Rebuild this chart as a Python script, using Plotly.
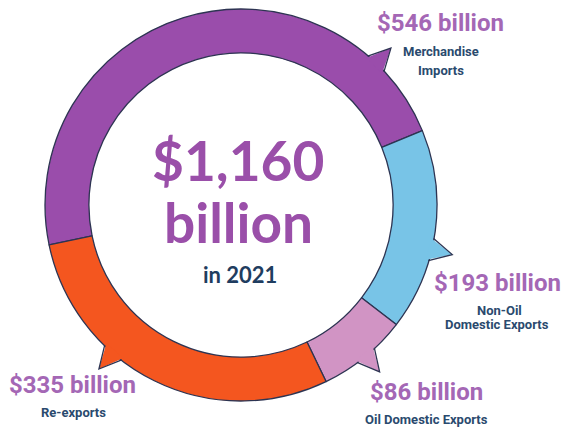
import math
import plotly.graph_objects as go

# ---- data ----
categories = ["Merchandise Imports", "Non-Oil Domestic Exports", "Oil Domestic Exports", "Re-exports"]
values = [546, 193, 86, 335]
value_labels = ["$546 billion", "$193 billion", "$86 billion", "$335 billion"]
sub_labels = [["Merchandise", "Imports"], ["Non-Oil", "Domestic Exports"], ["Oil Domestic Exports"], ["Re-exports"]]
total_lines = ["$1,160", "billion"]
year_label = "in 2021"

# ---- style ----
colors = ["#9a4dab", "#78c4e7", "#d194c4", "#f4561f"]
edge = "#2d3452"
W, H = 563, 430
cx, cy, R = 241, 205, 196          # donut centre / radius in pixels
start_angle = 22.3                 # end of first slice, math convention
pointer_angles = [46.3, -13.2, -50.3, -130.9]
label_pos = [(440, 23), (497, 283), (426, 392), (72, 385)]
sub_pos = [[(441, 52), (441, 70)], [(499, 310), (497, 324)], [(426, 419)], [(73, 412)]]
center_pos = [(238, 160), (238, 222), (240, 274)]

def px(x):
    return x / W

def py(y):
    return 1 - y / H

def clamp(v):
    return max(0.0, min(1.0, v))

fig = go.Figure(go.Pie(
    labels=categories,
    values=values,
    hole=0.776,
    sort=False,
    direction="clockwise",
    rotation=90 - (start_angle + 360 * values[0] / sum(values)),
    marker=dict(colors=colors, line=dict(color=edge, width=1.3)),
    textinfo="none",
    hoverinfo="label+value",
    domain=dict(x=[clamp(px(cx - R)), clamp(px(cx + R))], y=[clamp(py(cy + R)), clamp(py(cy - R))]),
    showlegend=False,
))

shapes = []
for ang, col in zip(pointer_angles, colors):
    def pt(a, r):
        return px(cx + r * math.cos(math.radians(a))), py(cy - r * math.sin(math.radians(a)))
    b1 = pt(ang + 3.3, R - 3)
    b2 = pt(ang - 3.3, R - 3)
    e1 = pt(ang + 3.3, R - 0.5)
    e2 = pt(ang - 3.3, R - 0.5)
    tip = pt(ang, R + 21)
    shapes.append(dict(type="path", xref="paper", yref="paper",
                       path=f"M{b1[0]},{b1[1]} L{tip[0]},{tip[1]} L{b2[0]},{b2[1]} Z",
                       fillcolor=col, line=dict(width=0), layer="above"))
    shapes.append(dict(type="path", xref="paper", yref="paper",
                       path=f"M{e1[0]},{e1[1]} L{tip[0]},{tip[1]} L{e2[0]},{e2[1]}",
                       fillcolor="rgba(0,0,0,0)", line=dict(color=edge, width=1.3), layer="above"))

cond = "Roboto"
annotations = []
for (lx, ly), txt in zip(label_pos, value_labels):
    annotations.append(dict(x=px(lx), y=py(ly), xref="paper", yref="paper", text=f"<b>{txt}</b>",
                            showarrow=False, xanchor="center", yanchor="middle",
                            font=dict(family=cond, size=24, color="#a467b5")))
for poss, lines in zip(sub_pos, sub_labels):
    for (lx, ly), txt in zip(poss, lines):
        annotations.append(dict(x=px(lx), y=py(ly), xref="paper", yref="paper", text=f"<b>{txt}</b>",
                                showarrow=False, xanchor="center", yanchor="middle",
                                font=dict(family=cond, size=13, color="#2a4a6e")))
for (lx, ly), txt in zip(center_pos[:2], total_lines):
    annotations.append(dict(x=px(lx), y=py(ly), xref="paper", yref="paper", text=f"<b>{txt}</b>",
                            showarrow=False, xanchor="center", yanchor="middle",
                            font=dict(family="Lato", size=55, color="#9a4fa9")))
annotations.append(dict(x=px(center_pos[2][0]), y=py(center_pos[2][1]), xref="paper", yref="paper",
                        text=f"<b>{year_label}</b>", showarrow=False, xanchor="center", yanchor="middle",
                        font=dict(family="Lato", size=22, color="#1f3d60")))

fig.update_layout(
    width=W, height=H,
    margin=dict(l=0, r=0, t=0, b=0),
    paper_bgcolor="white", plot_bgcolor="white",
    shapes=shapes, annotations=annotations,
)
fig.write_html("out.html", config={"displayModeBar": False},
               post_script="document.body.style.margin='0';")
